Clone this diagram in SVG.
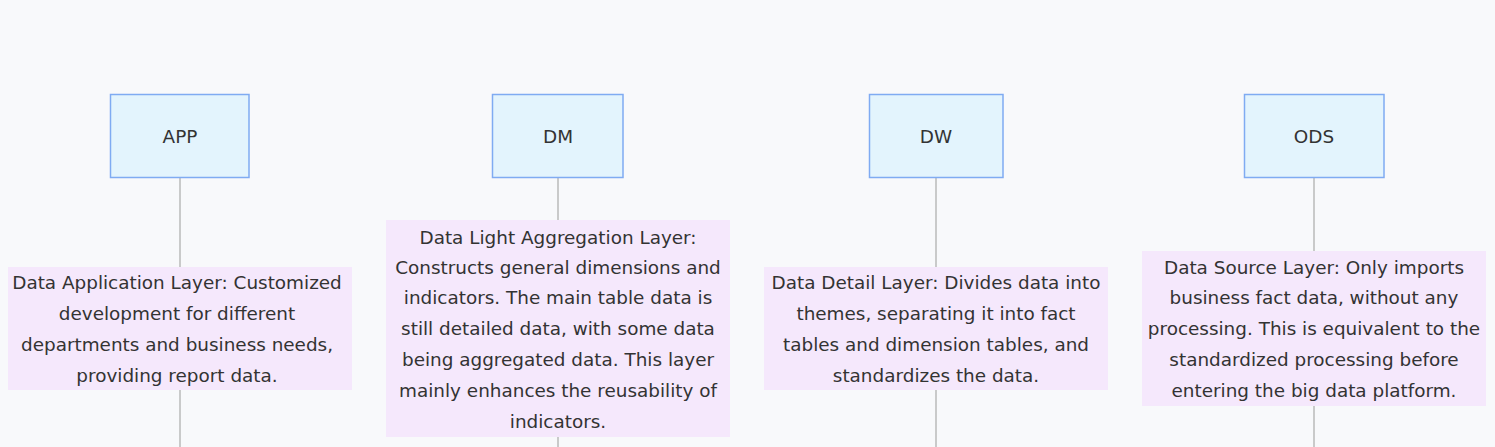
<svg xmlns="http://www.w3.org/2000/svg" width="1495" height="447" viewBox="0 0 1495 447">
<style>
.actor{fill:#e3f4fd;stroke:#7fabf2;stroke-width:1.5}
.note{fill:#f5e8fc;stroke:none}
.life{stroke:#aaaaaa;stroke-width:1.2;fill:none}
text{font-family:"DejaVu Sans",Verdana,sans-serif;font-size:18.4px;fill:#333333;text-anchor:middle;dominant-baseline:central}
</style>
<rect x="0" y="0" width="1495" height="447" fill="#f8f9fb"/>
<g id="connectors">
<line class="life" x1="180" y1="177" x2="180" y2="447"/>
<line class="life" x1="558" y1="177" x2="558" y2="447"/>
<line class="life" x1="936" y1="177" x2="936" y2="447"/>
<line class="life" x1="1314" y1="177" x2="1314" y2="447"/>
</g>
<g id="APP">
<rect class="actor" x="110.5" y="94.5" width="138.5" height="83"/>
<text x="180" y="136">APP</text>
</g>
<g id="DM">
<rect class="actor" x="492.5" y="94.5" width="130.5" height="83"/>
<text x="558" y="136">DM</text>
</g>
<g id="DW">
<rect class="actor" x="869.5" y="94.5" width="133.5" height="83"/>
<text x="936" y="136">DW</text>
</g>
<g id="ODS">
<rect class="actor" x="1244.5" y="94.5" width="139.5" height="83"/>
<text x="1314" y="136">ODS</text>
</g>
<g id="note_APP">
<rect class="note" x="8" y="267" width="344" height="123"/>
<text x="177" y="282">Data Application Layer: Customized</text>
<text x="177" y="313">development for different</text>
<text x="177" y="344">departments and business needs,</text>
<text x="177" y="375">providing report data.</text>
</g>
<g id="note_DM">
<rect class="note" x="386" y="220" width="344" height="217"/>
<text x="558" y="237">Data Light Aggregation Layer:</text>
<text x="558" y="267">Constructs general dimensions and</text>
<text x="558" y="297">indicators. The main table data is</text>
<text x="558" y="328">still detailed data, with some data</text>
<text x="558" y="359">being aggregated data. This layer</text>
<text x="558" y="390">mainly enhances the reusability of</text>
<text x="558" y="421">indicators.</text>
</g>
<g id="note_DW">
<rect class="note" x="764" y="267" width="344" height="123"/>
<text x="936" y="282">Data Detail Layer: Divides data into</text>
<text x="936" y="313">themes, separating it into fact</text>
<text x="936" y="344">tables and dimension tables, and</text>
<text x="936" y="375">standardizes the data.</text>
</g>
<g id="note_ODS">
<rect class="note" x="1142" y="251" width="344" height="155"/>
<text x="1314" y="267">Data Source Layer: Only imports</text>
<text x="1314" y="297">business fact data, without any</text>
<text x="1314" y="328">processing. This is equivalent to the</text>
<text x="1314" y="359">standardized processing before</text>
<text x="1314" y="390">entering the big data platform.</text>
</g>
</svg>
